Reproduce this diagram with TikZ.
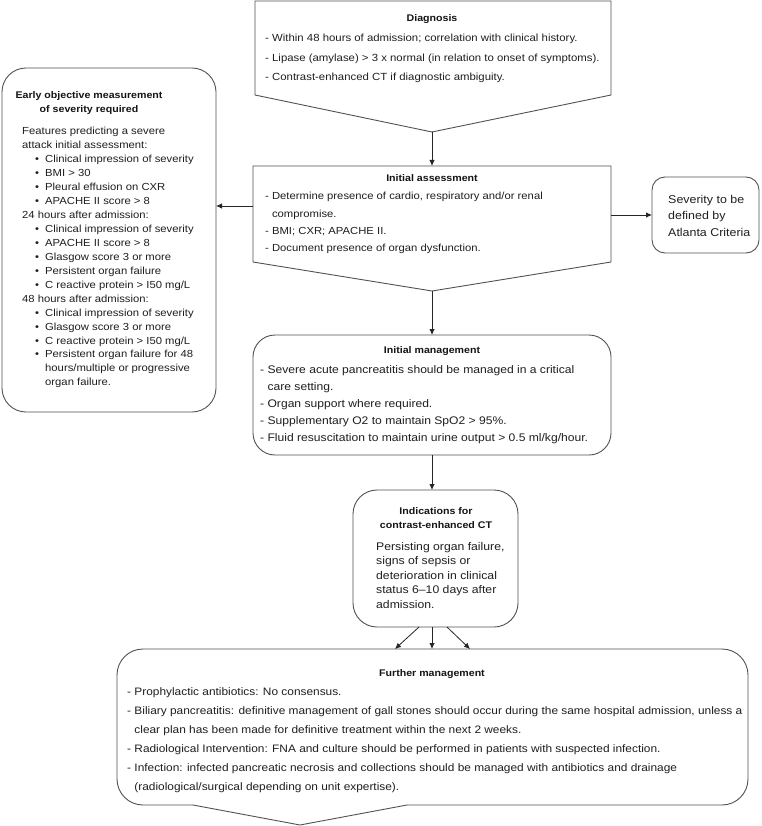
\documentclass[tikz,border=0pt]{standalone}
\usepackage{fontspec}
\setmainfont{Liberation Sans}[FakeStretch=1.1]
\usetikzlibrary{arrows.meta}
\newcommand\bul{\hspace*{13pt}\makebox[10pt][l]{•}}
\newcommand\bulc{\hspace*{23pt}}
\newcommand\dsh{\hphantom{-~}}
\newcommand\fsz[2]{\fontsize{#1}{#2}\selectfont}
\begin{document}
\begin{tikzpicture}[x=1pt,y=-1pt,
  box/.style={draw=black!68, line width=0.9pt},
  arr/.style={draw=black!85, line width=0.8pt, -{Latex[length=6pt,width=5.5pt]}},
  txt/.style={anchor=north west, inner sep=0pt, align=left, text=black!88},
  ttl/.style={anchor=north, inner sep=0pt, align=center, text=black!92, font=\fsz{9.65}{14}\bfseries},
]
\useasboundingbox (0,0) rectangle (761,826);
\fill[white] (0,0) rectangle (761,826);

% Diagnosis
\draw[box] (255,1) -- (611,1) -- (611,95) -- (432,132) -- (255,95) -- cycle;
\coordinate (diagApex) at (432,132);
\node[ttl] (diagTitle) at (432,14) {Diagnosis};
\node[txt, font=\fsz{10.35}{19.5}] (diagText) at (265,34.2) {%
- Within 48 hours of admission; correlation with clinical history.\\
- Lipase (amylase) > 3 x normal (in relation to onset of symptoms).\\
- Contrast-enhanced CT if diagnostic ambiguity.};

% Initial assessment
\draw[box] (253,166) -- (611,166) -- (611,262) -- (432,291) -- (253,262) -- cycle;
\coordinate (iaTop) at (432,166);
\coordinate (iaApex) at (432,291);
\coordinate (iaLeft) at (253,206);
\coordinate (iaRight) at (611,215);
\node[ttl] (iaTitle) at (432,174) {Initial assessment};
\node[txt, font=\fsz{10.25}{17.1}] (iaText) at (265,192.3) {%
- Determine presence of cardio, respiratory and/or renal\\
\dsh compromise.\\
- BMI; CXR; APACHE II.\\
- Document presence of organ dysfunction.};

% Left box
\draw[box, rounded corners=24pt] (2,68) rectangle (216,412);
\coordinate (leftIn) at (216,206);
\node[ttl, font=\fsz{9.65}{14}\bfseries] (leftTitle) at (89,91) {Early objective measurement\\of severity required};
\node[txt, font=\fsz{10.25}{13.94}] (leftText) at (22,127.3) {%
Features predicting a severe\\
attack initial assessment:\\
\bul Clinical impression of severity\\
\bul BMI > 30\\
\bul Pleural effusion on CXR\\
\bul APACHE II score > 8\\
24 hours after admission:\\
\bul Clinical impression of severity\\
\bul APACHE II score > 8\\
\bul Glasgow score 3 or more\\
\bul Persistent organ failure\\
\bul C reactive protein > I50 mg/L\\
48 hours after admission:\\
\bul Clinical impression of severity\\
\bul Glasgow score 3 or more\\
\bul C reactive protein > I50 mg/L\\
\bul Persistent organ failure for 48\\
\bulc hours/multiple or progressive\\
\bulc organ failure.};

% Severity box
\draw[box, rounded corners=13pt] (652,177) rectangle (759,253);
\coordinate (sevIn) at (652,215);
\node[txt, font=\fsz{11.3}{16.5}] (sevText) at (668,194.8) {%
Severity to be\\
defined by\\
Atlanta Criteria};

% Initial management
\draw[box, rounded corners=22pt] (253,335) rectangle (611,455);
\coordinate (imTop) at (432,335);
\coordinate (imBot) at (432,455);
\node[ttl] (imTitle) at (432,346) {Initial management};
\node[txt, font=\fsz{11}{17}] (imText) at (260,364.9) {%
- Severe acute pancreatitis should be managed in a critical\\
\dsh care setting.\\
- Organ support where required.\\
- Supplementary O2 to maintain SpO2 > 95\%.\\
- Fluid resuscitation to maintain urine output > 0.5 ml/kg/hour.};

% Indications
\draw[box, rounded corners=24pt] (353,490) rectangle (518,627);
\coordinate (indTop) at (432,490);
\coordinate (indB1) at (419,627);
\coordinate (indB2) at (432,627);
\coordinate (indB3) at (447,627);
\node[ttl, font=\fsz{9.65}{14.5}\bfseries] (indTitle) at (436,507) {Indications for\\contrast-enhanced CT};
\node[txt, font=\fsz{11.1}{14.6}] (indText) at (376,541.9) {%
Persisting organ failure,\\
signs of sepsis or\\
deterioration in clinical\\
status 6–10 days after\\
admission.};

% Further management
\draw[box, rounded corners=26pt] (407,805) -- (748,805) -- (748,649) -- (117,649) -- (117,805) -- (193,805);
\draw[box] (193,805) -- (300,825) -- (407,805);
\coordinate (fmT1) at (395,649);
\coordinate (fmT2) at (432,649);
\coordinate (fmT3) at (470,649);
\node[ttl] (fmTitle) at (432,669) {Further management};
\node[txt, font=\fsz{10.8}{19}] (fmText) at (127,687) {%
- Prophylactic antibiotics: No consensus.\\
- Biliary pancreatitis: definitive management of gall stones should occur during the same hospital admission, unless a\\
\dsh clear plan has been made for definitive treatment within the next 2 weeks.\\
- Radiological Intervention: FNA and culture should be performed in patients with suspected infection.\\
- Infection: infected pancreatic necrosis and collections should be managed with antibiotics and drainage\\
\dsh (radiological/surgical depending on unit expertise).};

% Connectors
\draw[arr] (diagApex) -- (iaTop);
\draw[arr] (iaLeft) -- (leftIn);
\draw[arr] (iaRight) -- (sevIn);
\draw[arr] (iaApex) -- (imTop);
\draw[arr] (imBot) -- (indTop);
\draw[arr] (indB1) -- (fmT1);
\draw[arr] (indB2) -- (fmT2);
\draw[arr] (indB3) -- (fmT3);
\end{tikzpicture}
\end{document}
